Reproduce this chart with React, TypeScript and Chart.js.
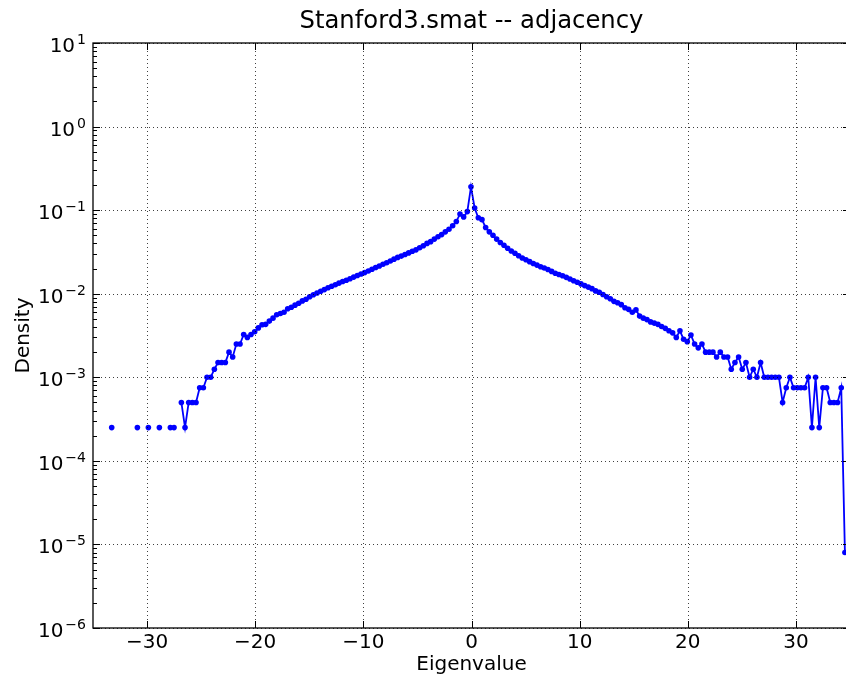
import { useEffect, useRef } from "react";
import { Chart, registerables } from "chart.js";

Chart.register(...registerables);

const TITLE = "Stanford3.smat -- adjacency";
const X_LABEL = "Eigenvalue";
const Y_LABEL = "Density";
const X_TICKS = [-30, -20, -10, 0, 10, 20, 30];
const Y_TICK_EXPONENTS = [-6, -5, -4, -3, -2, -1, 0, 1];
const X_MIN = -35;
const X_MAX = 35;
const Y_MIN = 1e-6;
const Y_MAX = 10;

// histogram bin positions (eigenvalue)
const eigenvalues = [
  -33.27, -32.931, -32.592, -32.253, -31.914, -31.575, -31.236, -30.897, -30.558, -30.219,
  -29.88, -29.541, -29.202, -28.863, -28.524, -28.185, -27.846, -27.507, -27.168, -26.829,
  -26.49, -26.151, -25.812, -25.473, -25.134, -24.795, -24.456, -24.117, -23.778, -23.439,
  -23.1, -22.761, -22.422, -22.083, -21.744, -21.405, -21.066, -20.727, -20.388, -20.049,
  -19.71, -19.371, -19.032, -18.693, -18.354, -18.015, -17.676, -17.337, -16.998, -16.659,
  -16.32, -15.981, -15.642, -15.303, -14.964, -14.625, -14.286, -13.947, -13.608, -13.269,
  -12.93, -12.591, -12.252, -11.913, -11.574, -11.235, -10.896, -10.557, -10.218, -9.879,
  -9.54, -9.201, -8.862, -8.523, -8.184, -7.845, -7.506, -7.167, -6.828, -6.489,
  -6.15, -5.811, -5.472, -5.133, -4.794, -4.455, -4.116, -3.777, -3.438, -3.099,
  -2.76, -2.421, -2.082, -1.743, -1.404, -1.065, -0.726, -0.387, -0.048, 0.291,
  0.63, 0.969, 1.308, 1.647, 1.986, 2.325, 2.664, 3.003, 3.342, 3.681,
  4.02, 4.359, 4.698, 5.037, 5.376, 5.715, 6.054, 6.393, 6.732, 7.071,
  7.41, 7.749, 8.088, 8.427, 8.766, 9.105, 9.444, 9.783, 10.122, 10.461,
  10.8, 11.139, 11.478, 11.817, 12.156, 12.495, 12.834, 13.173, 13.512, 13.851,
  14.19, 14.529, 14.868, 15.207, 15.546, 15.885, 16.224, 16.563, 16.902, 17.241,
  17.58, 17.919, 18.258, 18.597, 18.936, 19.275, 19.614, 19.953, 20.292, 20.631,
  20.97, 21.309, 21.648, 21.987, 22.326, 22.665, 23.004, 23.343, 23.682, 24.021,
  24.36, 24.699, 25.038, 25.377, 25.716, 26.055, 26.394, 26.733, 27.072, 27.411,
  27.75, 28.089, 28.428, 28.767, 29.106, 29.445, 29.784, 30.123, 30.462, 30.801,
  31.14, 31.479, 31.818, 32.157, 32.496, 32.835, 33.174, 33.513, 33.852, 34.191,
  34.53,
];

// density per bin (null = empty bin, not drawn on log axis)
const density: (number | null)[] = [
  0.00025, null, null, null, null, null, null, 0.00025, null, null,
  0.00025, null, null, 0.00025, null, null, 0.00025, 0.00025, null, 0.0005,
  0.00025, 0.0005, 0.0005, 0.0005, 0.00075, 0.00075, 0.001, 0.001, 0.00125, 0.0015,
  0.0015, 0.0015, 0.002, 0.00175, 0.0025, 0.0025, 0.00325, 0.003, 0.00325, 0.0035,
  0.0039, 0.00425, 0.0043, 0.0047, 0.0051, 0.0056, 0.0058, 0.006, 0.0066, 0.0069,
  0.0073, 0.0077, 0.0082, 0.0086, 0.0092, 0.0097, 0.0102, 0.0107, 0.0112, 0.0118,
  0.0123, 0.0128, 0.0134, 0.014, 0.0145, 0.0151, 0.0158, 0.0165, 0.0172, 0.0179,
  0.0187, 0.0196, 0.0206, 0.0215, 0.0225, 0.0235, 0.0246, 0.0259, 0.0272, 0.0282,
  0.0295, 0.0308, 0.0322, 0.0335, 0.0355, 0.0375, 0.04, 0.042, 0.045, 0.048,
  0.051, 0.055, 0.059, 0.065, 0.073, 0.09, 0.083, 0.096, 0.19, 0.106,
  0.081, 0.077, 0.062, 0.055, 0.05, 0.045, 0.041, 0.038, 0.035, 0.0325,
  0.0305, 0.0285, 0.0268, 0.0255, 0.0242, 0.023, 0.022, 0.021, 0.0203, 0.0195,
  0.0185, 0.0176, 0.017, 0.0164, 0.0157, 0.015, 0.0143, 0.0137, 0.0131, 0.0125,
  0.012, 0.0115, 0.0108, 0.0104, 0.0098, 0.0092, 0.0087, 0.0081, 0.0078, 0.0074,
  0.0068, 0.0065, 0.006, 0.0064, 0.0054, 0.0051, 0.0049, 0.0046, 0.00445, 0.0043,
  0.00405, 0.00385, 0.0036, 0.0034, 0.003, 0.0036, 0.00285, 0.00267, 0.0032, 0.0025,
  0.00225, 0.0025, 0.002, 0.002, 0.002, 0.00175, 0.002, 0.00175, 0.00175, 0.00125,
  0.0015, 0.00175, 0.00125, 0.0015, 0.001, 0.00125, 0.001, 0.0015, 0.001, 0.001,
  0.001, 0.001, 0.001, 0.0005, 0.00075, 0.001, 0.00075, 0.00075, 0.00075, 0.00075,
  0.001, 0.00025, 0.001, 0.00025, 0.00075, 0.00075, 0.0005, 0.0005, 0.0005, 0.00075,
  0.000008,
];

const FONT = '"DejaVu Sans", "Liberation Sans", sans-serif';

const mplPlugin = {
  id: "mplAxes",
  afterDatasetsDraw(chart: any) {
    const { ctx, chartArea: a, scales } = chart;
    const xs = scales.x;
    const ys = scales.y;
    ctx.save();

    // dotted grid
    ctx.strokeStyle = "rgba(0,0,0,0.75)";
    ctx.lineWidth = 1;
    ctx.setLineDash([1, 3]);
    for (const v of X_TICKS) {
      const px = Math.round(xs.getPixelForValue(v)) + 0.5;
      ctx.beginPath();
      ctx.moveTo(px, a.top);
      ctx.lineTo(px, a.bottom);
      ctx.stroke();
    }
    for (const e of Y_TICK_EXPONENTS) {
      const py = Math.round(ys.getPixelForValue(Math.pow(10, e))) + 0.5;
      ctx.beginPath();
      ctx.moveTo(a.left, py);
      ctx.lineTo(a.right, py);
      ctx.stroke();
    }
    ctx.setLineDash([]);

    // frame
    ctx.strokeStyle = "#000";
    ctx.lineWidth = 1.3;
    ctx.strokeRect(a.left, a.top, a.right - a.left, a.bottom - a.top);

    // ticks
    ctx.lineWidth = 1;
    const MAJ = 7;
    const MIN = 4;
    for (const v of X_TICKS) {
      const px = Math.round(xs.getPixelForValue(v)) + 0.5;
      ctx.beginPath();
      ctx.moveTo(px, a.bottom);
      ctx.lineTo(px, a.bottom - MAJ);
      ctx.moveTo(px, a.top);
      ctx.lineTo(px, a.top + MAJ);
      ctx.stroke();
    }
    for (const e of Y_TICK_EXPONENTS) {
      const base = Math.pow(10, e);
      const py = Math.round(ys.getPixelForValue(base)) + 0.5;
      ctx.beginPath();
      ctx.moveTo(a.left, py);
      ctx.lineTo(a.left + MAJ, py);
      ctx.moveTo(a.right, py);
      ctx.lineTo(a.right - MAJ, py);
      ctx.stroke();
      if (e < Y_TICK_EXPONENTS[Y_TICK_EXPONENTS.length - 1]) {
        for (let m = 2; m <= 9; m++) {
          const qy = Math.round(ys.getPixelForValue(m * base)) + 0.5;
          ctx.beginPath();
          ctx.moveTo(a.left, qy);
          ctx.lineTo(a.left + MIN, qy);
          ctx.moveTo(a.right, qy);
          ctx.lineTo(a.right - MIN, qy);
          ctx.stroke();
        }
      }
    }

    // tick labels
    ctx.fillStyle = "#000";
    ctx.textBaseline = "alphabetic";
    ctx.font = `20px ${FONT}`;
    ctx.textAlign = "center";
    for (const v of X_TICKS) {
      const px = xs.getPixelForValue(v);
      const label = v < 0 ? "\u2212" + Math.abs(v) : String(v);
      ctx.fillText(label, px, a.bottom + 20);
    }
    ctx.textAlign = "right";
    for (const e of Y_TICK_EXPONENTS) {
      const py = ys.getPixelForValue(Math.pow(10, e));
      const exp = e < 0 ? "\u2212" + Math.abs(e) : String(e);
      const right = a.left - 7;
      ctx.font = `14px ${FONT}`;
      const w = ctx.measureText(exp).width;
      ctx.fillText(exp, right, py + 1);
      ctx.font = `20px ${FONT}`;
      ctx.fillText("10", right - w - 2, py + 9);
    }

    // title and axis labels
    const cx = (a.left + a.right) / 2;
    ctx.textAlign = "center";
    ctx.font = `24.3px ${FONT}`;
    ctx.fillText(TITLE, cx, 28);
    ctx.font = `20px ${FONT}`;
    ctx.fillText(X_LABEL, cx, 670);
    ctx.save();
    ctx.translate(29, (a.top + a.bottom) / 2);
    ctx.rotate(-Math.PI / 2);
    ctx.fillText(Y_LABEL, 0, 0);
    ctx.restore();

    ctx.restore();
  },
};

export default function App() {
  const ref = useRef<HTMLCanvasElement>(null);

  useEffect(() => {
    const canvas = ref.current;
    if (!canvas) return;
    const points = eigenvalues.map((x, i) => ({ x, y: density[i] }));
    const chart = new Chart(canvas, {
      type: "line",
      data: {
        datasets: [
          {
            data: points as any,
            borderColor: "#0000ff",
            backgroundColor: "#0000ff",
            borderWidth: 1.8,
            pointRadius: 2.8,
            pointBorderWidth: 0,
            pointBackgroundColor: "#0000ff",
            tension: 0,
            spanGaps: false,
            fill: false,
          },
        ],
      },
      options: {
        animation: false,
        responsive: false,
        devicePixelRatio: 1,
        events: [],
        layout: { padding: { left: 93, top: 43, right: 30, bottom: 49 } },
        plugins: { legend: { display: false }, tooltip: { enabled: false }, title: { display: false } },
        scales: {
          x: { type: "linear", display: false, min: X_MIN, max: X_MAX, bounds: "data" },
          y: { type: "logarithmic", display: false, min: Y_MIN, max: Y_MAX, bounds: "data" },
        },
      },
      plugins: [mplPlugin],
    });
    return () => chart.destroy();
  }, []);

  return (
    <div
      style={{
        position: "fixed",
        left: 0,
        top: 0,
        width: 846,
        height: 677,
        overflow: "hidden",
        background: "#fff",
      }}
    >
      <canvas ref={ref} width={880} height={677} style={{ display: "block", width: 880, height: 677 }} />
    </div>
  );
}
